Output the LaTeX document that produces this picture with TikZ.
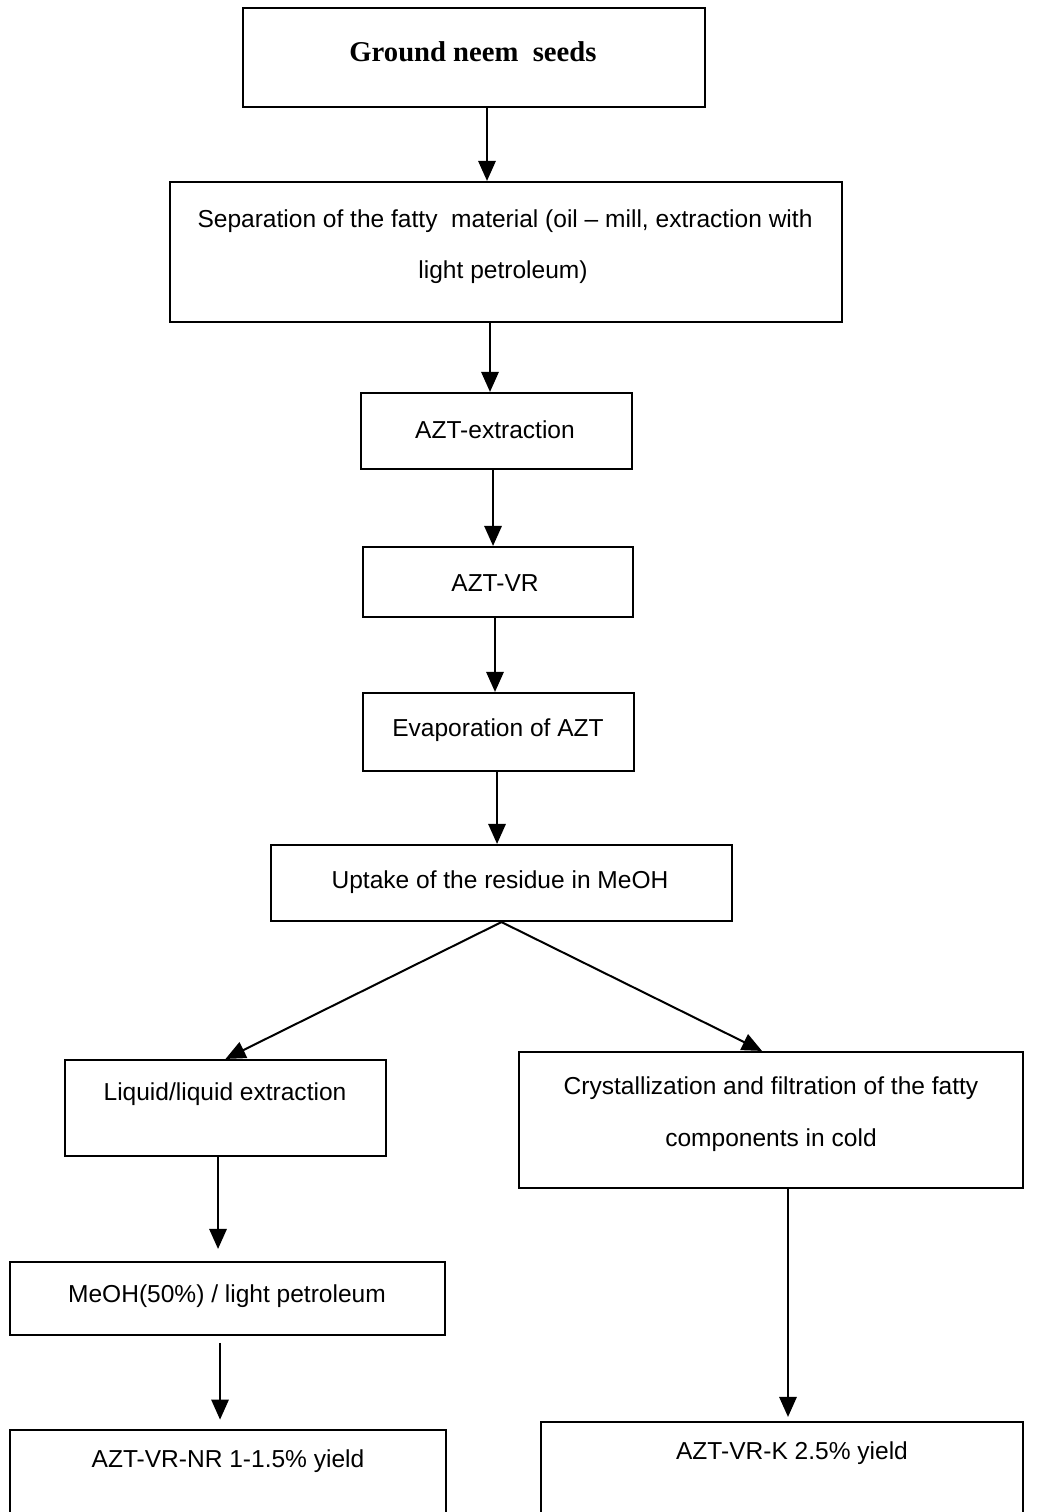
\documentclass[tikz,border=0pt]{standalone}
\usepackage{fontspec}
\setmainfont{Liberation Sans}
\newfontfamily\serifbf{Liberation Serif}
\usetikzlibrary{arrows.meta}
\begin{document}
\begin{tikzpicture}[x=0.75pt,y=-0.75pt,
  box/.style={draw,line width=1.6pt,rectangle,inner sep=0pt},
  lbl/.style={inner sep=0pt,font=\fontsize{18.4}{21}\selectfont},
  arr/.style={line width=1.5pt,-{Triangle[length=15pt,width=13pt]}}]
\useasboundingbox (0,0) rectangle (1040,1512);
% boxes
\node[box,minimum width=462*0.75pt,minimum height=99*0.75pt] (A) at (474,57.5) {};
\node[box,minimum width=672*0.75pt,minimum height=140*0.75pt] (B) at (506,252) {};
\node[box,minimum width=271*0.75pt,minimum height=76*0.75pt] (C) at (496.5,431) {};
\node[box,minimum width=270*0.75pt,minimum height=70*0.75pt] (D) at (498,582) {};
\node[box,minimum width=271*0.75pt,minimum height=78*0.75pt] (E) at (498.5,732) {};
\node[box,minimum width=461*0.75pt,minimum height=76*0.75pt] (F) at (501.5,883) {};
\node[box,minimum width=321*0.75pt,minimum height=96*0.75pt] (G) at (225.5,1108) {};
\node[box,minimum width=504*0.75pt,minimum height=136*0.75pt] (H) at (771,1120) {};
\node[box,minimum width=435*0.75pt,minimum height=73*0.75pt] (I) at (227.5,1298.5) {};
\node[box,minimum width=436*0.75pt,minimum height=90*0.75pt] (J) at (228,1475) {};
\node[box,minimum width=482*0.75pt,minimum height=100*0.75pt] (K) at (782,1472) {};
% texts
\node[lbl,font=\serifbf\bfseries\fontsize{21.5}{24}\selectfont] (tA) at (473,52) {Ground neem\ \ seeds};
\node[lbl] (tB1) at (505,221) {Separation of the fatty\ \ material (oil -- mill, extraction with};
\node[lbl] (tB2) at (503,272) {light petroleum)};
\node[lbl] (tC) at (495,430) {AZT-extraction};
\node[lbl] (tD) at (495,583) {AZT-VR};
\node[lbl] (tE) at (498,730) {Evaporation of AZT};
\node[lbl] (tF) at (500,882) {Uptake of the residue\ in MeOH};
\node[lbl] (tG) at (225,1094) {Liquid/liquid extraction};
\node[lbl] (tH1) at (771,1088) {Crystallization and filtration of the fatty};
\node[lbl] (tH2) at (771,1140) {components in cold};
\node[lbl] (tI) at (227,1296) {MeOH(50\%) / light petroleum};
\node[lbl] (tJ) at (228,1461) {AZT-VR-NR 1-1.5\% yield};
\node[lbl] (tK) at (792,1453) {AZT-VR-K 2.5\% yield};
% connectors
\draw[arr] ([xshift=9.75pt]A.south) -- ([xshift=9.75pt]A.south |- B.north);
\draw[arr] ([xshift=-12pt]B.south) -- ([xshift=-12pt]B.south |- C.north);
\draw[arr] ([xshift=-2.6pt]C.south) -- ([xshift=-2.6pt]C.south |- D.north);
\draw[arr] ([xshift=-2.25pt]D.south) -- ([xshift=-2.25pt]D.south |- E.north);
\draw[arr] ([xshift=-1.1pt]E.south) -- ([xshift=-1.1pt]E.south |- F.north);
\draw[arr] (F.south) -- (G.north);
\draw[arr] (F.south) -- ([xshift=-6.75pt]H.north);
\draw[arr,shorten >=9pt] ([xshift=-5.6pt]G.south) -- ([xshift=-5.6pt]G.south |- I.north);
\draw[arr,shorten <=5pt,shorten >=7pt] ([xshift=-5.6pt]I.south) -- ([xshift=-5.6pt]I.south |- J.north);
\draw[arr,shorten >=3pt] ([xshift=12.75pt]H.south) -- ([xshift=12.75pt]H.south |- K.north);
\end{tikzpicture}
\end{document}
